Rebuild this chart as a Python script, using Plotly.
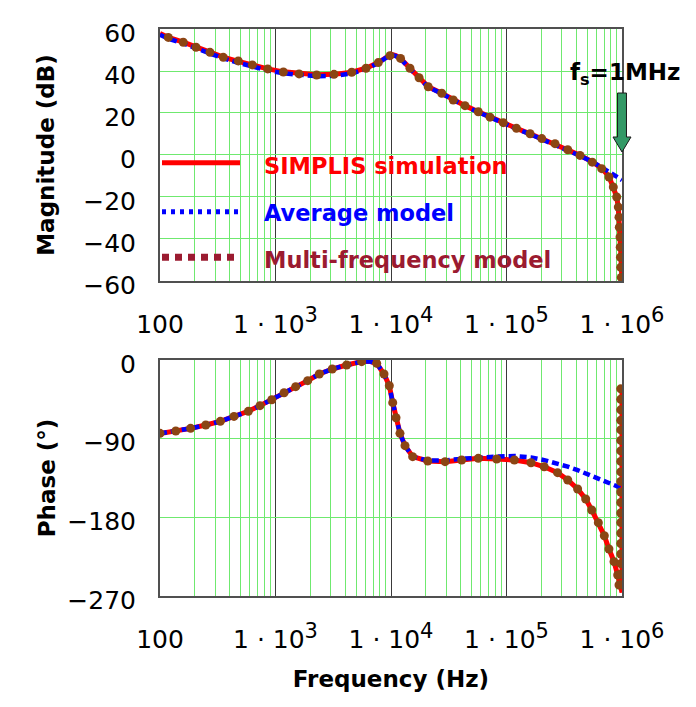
import plotly.graph_objects as go

# ---------------- data ----------------
# Magnitude, SIMPLIS simulation
mag_sim_f = [100, 118, 159, 205, 271, 353, 476, 630, 856, 1170, 1600, 2270, 3210, 4570,
             6080, 7760, 9000, 10000, 11000, 12100, 14600, 17500, 21000, 27500, 34600,
             43700, 57000, 72000, 93800, 122000, 160000, 202000, 263000, 339000, 433000,
             553000, 667000, 771000, 841000, 900000, 929000, 948000, 961000, 975000,
             990000, 1000000]
mag_sim_db = [57.8, 56.0, 53.7, 51.3, 48.9, 46.6, 44.6, 42.8, 41.0, 39.6, 38.7, 38.2, 38.4, 39.4,
              41.3, 44.0, 46.3, 48.0, 47.3, 46.0, 41.3, 36.8, 32.5, 29.4, 26.2,
              23.5, 20.6, 18.0, 15.4, 12.7, 10.1, 7.8, 5.4, 2.6, -0.1,
              -3.3, -6.3, -10.2, -15.0, -20.0, -25.0, -31.0, -38.0, -46.0,
              -55.0, -60.0]

# Magnitude, average model
mag_avg_f = [100, 118, 159, 205, 271, 353, 476, 630, 856, 1170, 1600, 2270, 3210, 4570,
             6080, 7760, 9000, 10000, 11000, 12100, 14600, 17500, 21000, 27500, 34600,
             43700, 57000, 72000, 93800, 122000, 160000, 202000, 263000, 339000, 433000,
             553000, 667000, 771000, 900000, 1000000]
mag_avg_db = [57.2, 55.4, 53.1, 50.7, 48.3, 46.0, 43.9, 42.1, 40.3, 38.9, 38.0, 37.5, 37.7, 38.8,
              41.0, 43.8, 46.2, 47.8, 47.1, 45.8, 41.1, 36.6, 32.3, 29.2, 26.0,
              23.3, 20.4, 17.8, 15.2, 12.5, 9.9, 7.6, 5.1, 2.3, -0.4,
              -3.2, -6.0, -8.6, -10.6, -11.9]

# Magnitude, multi-frequency model (dots)
mag_mf_f = [118, 159, 205, 271, 353, 476, 630, 856, 1170, 1600, 2270, 3210, 4570, 6080,
            7760, 9800, 12100, 14600, 17500, 21000, 27500, 34600, 43700, 57000, 72000,
            93800, 122000, 160000, 202000, 263000, 339000, 433000, 553000, 667000,
            771000, 841000, 900000, 929000, 942000, 948000, 961000, 965000, 970000,
            975000, 985000]
mag_mf_db = [56.0, 53.7, 51.3, 48.9, 46.5, 44.8, 42.9, 41.0, 39.5, 38.6, 38.1, 38.4, 39.4, 41.3,
             44.0, 47.3, 46.0, 41.3, 36.8, 32.5, 29.4, 26.2, 23.5, 20.6, 18.0,
             15.4, 12.7, 10.1, 7.8, 5.4, 2.5, -0.2, -3.4, -6.5,
             -10.5, -15.3, -20.0, -24.8, -29.6, -34.4, -39.1, -43.9, -48.7,
             -53.5, -58.3]

# Phase, SIMPLIS simulation
ph_sim_f = [100, 137, 184, 249, 333, 437, 582, 734, 928, 1186, 1496, 1900, 2395, 3100, 4130,
            5570, 6500, 7520, 8700, 9670, 10350, 11050, 11960, 13220, 15400, 20800, 29400,
            40900, 57000, 82200, 117000, 163000, 212000, 277000, 339000, 413000, 485000,
            547000, 624000, 703000, 771000, 853000, 918000, 942000, 970000, 990000,
            1000000, 1000000]
ph_sim_deg = [-84.0, -81.2, -78.2, -74.4, -70.2, -64.5, -58.7, -52.2, -45.4, -37.4, -30.5, -23.6,
              -16.0, -10.3, -5.7, -1.9, -1.5, -3.8, -16.0, -29.4, -48.8, -66.0, -83.9, -98.0,
              -110.6, -115.5, -116.3, -114.4, -112.5, -113.3, -114.4, -117.5, -122.1, -128.9,
              -137.3, -147.6, -159.0, -171.6, -186.1, -201.0, -216.2, -230.7, -246.0, -254.0,
              -262.0, -266.0, -266.0, -34.0]

# Phase, average model
ph_avg_f = [100, 137, 184, 249, 333, 437, 582, 734, 928, 1186, 1496, 1900, 2395, 3100, 4130,
            5570, 6500, 7520, 8700, 9670, 10350, 11050, 11960, 13220, 15400, 20800, 29400,
            40900, 57000, 82200, 117000, 163000, 212000, 277000, 339000, 413000, 485000,
            600000, 724000, 850000, 1000000]
ph_avg_deg = [-84.0, -81.2, -78.2, -74.4, -70.2, -64.5, -58.7, -52.2, -45.4, -37.4, -30.5, -23.6,
              -16.0, -10.3, -5.7, -1.9, -1.5, -3.8, -16.0, -29.4, -48.8, -66.0, -83.9, -98.0,
              -110.6, -115.0, -115.0, -113.0, -111.5, -110.5, -109.8, -111.5, -114.5, -118.5,
              -122.0, -126.0, -129.6, -134.0, -139.2, -143.0, -146.8]

# Phase, multi-frequency model (dots)
ph_mf_f = [100, 137, 184, 249, 333, 437, 582, 734, 928, 1186, 1496, 1900, 2395, 3100, 4130,
           5570, 7520, 8700, 9670, 10350, 11050, 11960, 13220, 15400, 20800, 29400, 40900,
           57000, 82200, 117000, 163000, 212000, 277000, 339000, 413000, 485000, 547000,
           624000, 703000, 771000, 853000, 918000, 942000,
           975000, 975000, 975000, 975000, 975000, 975000, 975000, 975000, 975000, 975000,
           975000, 975000, 975000, 975000, 975000, 975000, 975000, 975000, 975000, 975000]
ph_mf_deg = [-83.9, -81.2, -78.2, -74.4, -70.2, -64.5, -58.7, -52.2, -45.4, -37.4, -30.5, -23.6,
             -16.0, -10.3, -5.7, -1.9, -3.8, -16.0, -29.4, -48.8, -66.0, -83.9, -98.0, -110.6,
             -115.5, -116.3, -114.4, -112.5, -113.3, -114.4, -117.5, -122.1, -128.9, -137.3,
             -147.6, -159.0, -171.6, -186.1, -201.0, -216.2, -230.7, -246.0, -257.4,
             -257.0, -245.0, -233.0, -222.0, -210.0, -198.0, -186.0, -175.0, -163.0, -151.0,
             -139.0, -128.0, -116.0, -104.0, -92.0, -80.0, -69.0, -57.0, -45.0, -33.0]

x_tickvals = [100, 1e3, 1e4, 1e5, 1e6]
x_ticktext = ["100",
              "1 · 10<sup><span style=\"font-size:21px\">3</span></sup>",
              "1 · 10<sup><span style=\"font-size:21px\">4</span></sup>",
              "1 · 10<sup><span style=\"font-size:21px\">5</span></sup>",
              "1 · 10<sup><span style=\"font-size:21px\">6</span></sup>"]
mag_tickvals = [60, 40, 20, 0, -20, -40, -60]
ph_tickvals = [0, -90, -180, -270]

series_names = ["SIMPLIS simulation", "Average model", "Multi-frequency model"]

# ---------------- styling ----------------
RED = "#ff0000"
BLUE = "#0000ff"
BROWN = "#8b4513"
DARKRED = "#9b1b30"
GRID_GREEN = "#6fe96f"
MAJOR = "#3a3a3a"
FONT = "DejaVu Sans"

fig = go.Figure()

def add_set(xs, ys, xa, ya, xs2, ys2, xs3, ys3):
    fig.add_trace(go.Scatter(x=xs, y=ys, mode="lines", name=series_names[0],
                             line=dict(color=RED, width=5), xaxis=xa, yaxis=ya, showlegend=False))
    fig.add_trace(go.Scatter(x=xs2, y=ys2, mode="lines", name=series_names[1],
                             line=dict(color=BLUE, width=4.5, dash="7px,4px"), xaxis=xa, yaxis=ya,
                             showlegend=False))
    fig.add_trace(go.Scatter(x=xs3, y=ys3, mode="markers", name=series_names[2],
                             marker=dict(color=BROWN, size=9, line=dict(width=0)),
                             xaxis=xa, yaxis=ya, showlegend=False))

add_set(mag_sim_f, mag_sim_db, "x", "y", mag_avg_f, mag_avg_db, mag_mf_f, mag_mf_db)
add_set(ph_sim_f, ph_sim_deg, "x2", "y2", ph_avg_f, ph_avg_deg, ph_mf_f, ph_mf_deg)

xcommon = dict(type="log", range=[2, 6], tickvals=x_tickvals, ticktext=x_ticktext,
               showgrid=True, gridcolor=MAJOR, gridwidth=1,
               minor=dict(dtick="D1", showgrid=True, gridcolor=GRID_GREEN, gridwidth=1.4),
               showline=True, mirror=True, linecolor="#505050", linewidth=2,
               ticks="", ticklabelstandoff=20,
               tickfont=dict(family=FONT, size=25, color="black"), zeroline=False)
ycommon = dict(showgrid=True, gridcolor=GRID_GREEN, gridwidth=1.4, zeroline=False,
               showline=True, mirror=True, linecolor="#505050", linewidth=2,
               ticks="", ticklabelstandoff=17, ticklabelshift=4,
               tickfont=dict(family=FONT, size=25, color="black"))

fig.update_layout(
    width=696, height=707,
    margin=dict(l=160, r=74, t=29, b=111),
    paper_bgcolor="white", plot_bgcolor="white",
    showlegend=False,
    xaxis=dict(**xcommon, domain=[0, 1], anchor="y"),
    yaxis=dict(**ycommon, domain=[0.5556, 1], anchor="x", range=[-60, 60],
               tickvals=mag_tickvals,
               title=dict(text="<b>Magnitude (dB)</b>", font=dict(family=FONT, size=23, color="black"),
                          standoff=22)),
    xaxis2=dict(**xcommon, domain=[0, 1], anchor="y2",
                title=dict(text="<b>Frequency (Hz)</b>", font=dict(family=FONT, size=23, color="black"),
                           standoff=18)),
    yaxis2=dict(**ycommon, domain=[0, 0.4162], anchor="x2", range=[-270, 0],
                tickvals=ph_tickvals,
                title=dict(text="<b>Phase (°)</b>", font=dict(family=FONT, size=23, color="black"),
                           standoff=5)),
)

# ---------------- legend drawn inside the magnitude plot ----------------
def px_x(px):
    return (px - 160) / 462.0

def px_y(py):
    return (596 - py) / 567.0

legend_rows = [
    (series_names[0], RED, dict(color=RED, width=5), 162.7, 166),
    (series_names[1], BLUE, dict(color=BLUE, width=5, dash="4px,5px"), 211.7, 213),
    (series_names[2], DARKRED, dict(color=DARKRED, width=7, dash="7px,6px"), 257.3, 260),
]
for name, col, ln, ly, ty in legend_rows:
    fig.add_shape(type="line", xref="paper", yref="paper",
                  x0=px_x(162), x1=px_x(240), y0=px_y(ly), y1=px_y(ly), line=ln)
    fig.add_annotation(xref="paper", yref="paper", x=px_x(262), y=px_y(ty),
                       xanchor="left", yanchor="middle", showarrow=False,
                       text="<b>%s</b>" % name, font=dict(family=FONT, size=22.5, color=col))

# ---------------- fs arrow ----------------
pts = [(617.5, 93), (626.5, 93), (626.5, 137), (631, 137), (622, 152), (613, 137), (617.5, 137)]
path = "M " + " L ".join("%.4f,%.4f" % (px_x(a), px_y(b)) for a, b in pts) + " Z"
fig.add_shape(type="path", xref="paper", yref="paper", path=path,
              fillcolor="#339966", line=dict(color="#1a1a1a", width=1))
fig.add_annotation(xref="paper", yref="paper", x=px_x(568), y=px_y(74),
                   xanchor="left", yanchor="middle", showarrow=False,
                   text="<b>f<sub>s</sub>=1MHz</b>", font=dict(family=FONT, size=23, color="black"))

fig.write_html("out.html")
